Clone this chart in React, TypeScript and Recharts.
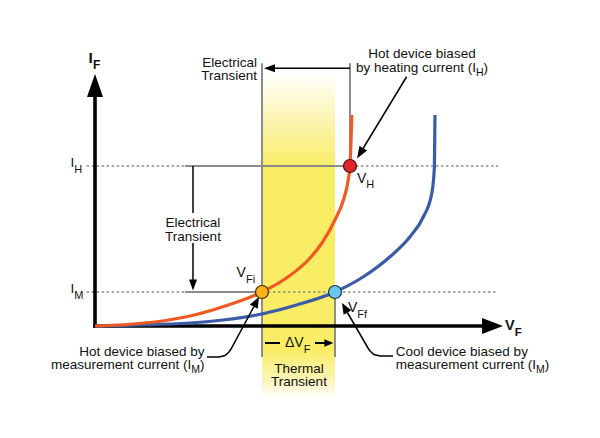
import React from 'react';
import { ComposedChart, Line, XAxis, YAxis, ReferenceLine, ReferenceDot, ReferenceArea } from 'recharts';

// ---- data (V_F in arbitrary voltage units, I_F in arbitrary current units) ----
const redV = [0, 7, 15.4, 23.75, 32, 41.75, 48.3, 53.3, 56.7, 60, 62.1, 63.3, 63.75, 64.2];
const redI = [0, 0.5, 1.7, 4, 7.7, 13.6, 19.7, 26.4, 33.1, 42.4, 50.4, 58.4, 64, 84.4];
const blueV = [0, 23.75, 32, 40.4, 50.4, 60, 67.1, 73.75, 78.75, 82.1, 84.2, 84.85, 85];
const blueI = [0, 1.2, 2.4, 4.4, 8.4, 13.6, 19.7, 27.7, 35.7, 43.7, 53.1, 63.7, 84.4];

const I_H = 64;
const I_M = 13.6;
const V_FI = 41.75;
const V_FF = 60;
const V_H = 63.75;

const hotLeaderV = [28, 31, 32.5, 33.5, 34, 39.7];
const hotLeaderI = [-12.4, -12.4, -11.8, -10.4, -9.2, 7.7];
const coolLeaderV = [74.5, 71.25, 69.75, 68.75, 68.25, 63.1];
const coolLeaderI = [-12, -12, -11.4, -10, -8.8, 5.4];

const X_DOMAIN: [number, number] = [-23.75, 126.25];
const Y_DOMAIN: [number, number] = [-44.8, 130.4];

const toData = (vs: number[], is: number[]) => vs.map((v, k) => ({ v, i: is[k] }));
const redData = toData(redV, redI);
const blueData = toData(blueV, blueI);
const hotLeader = toData(hotLeaderV, hotLeaderI);
const coolLeader = toData(coolLeaderV, coolLeaderI);

const FONT = "'Liberation Sans', Arial, Helvetica, sans-serif";
const RED_C = '#ef5a24';
const BLUE_C = '#3b5ba8';
const GREY = '#8c8c8c';

type Seg = string | { sub: string };
type TOpts = { anchor?: 'start' | 'middle' | 'end'; size?: number; weight?: string | number; lh?: number; sub?: number; shift?: number; dy?: number };

const mkText = (lines: Seg[][], o: TOpts = {}) => (p: any) => {
  const size = o.size ?? 13.5;
  const lh = o.lh ?? 13.3;
  const sub = o.sub ?? size * 0.78;
  const shift = o.shift ?? 4;
  return (
    <g>
      {lines.map((segs, li) => {
        let down = false;
        return (
          <text
            key={li}
            x={p.cx}
            y={p.cy + li * lh + (o.dy ?? 0)}
            textAnchor={o.anchor ?? 'start'}
            fontFamily={FONT}
            fontSize={size}
            fontWeight={o.weight ?? 'normal'}
            fill="#111"
          >
            {segs.map((s, si) => {
              if (typeof s === 'string') {
                const dy = down ? -shift : 0;
                down = false;
                return (
                  <tspan key={si} dy={dy} fontSize={size}>
                    {s}
                  </tspan>
                );
              }
              down = true;
              return (
                <tspan key={si} dy={shift} fontSize={sub}>
                  {s.sub}
                </tspan>
              );
            })}
          </text>
        );
      })}
    </g>
  );
};

const mkArrow = (angle: number, len = 11, hw = 4, color = '#000') => (p: any) => (
  <polygon
    points={`0,0 ${-len},${-hw} ${-len},${hw}`}
    transform={`translate(${p.cx},${p.cy}) rotate(${angle})`}
    fill={color}
  />
);

const seg = (x1: number, y1: number, x2: number, y2: number) => [
  { x: x1, y: y1 },
  { x: x2, y: y2 },
];

export default function App() {
  return (
    <div style={{ position: 'absolute', left: 0, top: 0, width: 600, height: 438, background: '#fff' }}>
      <ComposedChart width={600} height={438} margin={{ top: 0, right: 0, bottom: 0, left: 0 }}>
        <defs>
          <linearGradient id="yband" x1="0" y1="0" x2="0" y2="1">
            <stop offset="0" stopColor="#fffef6" />
            <stop offset="0.1" stopColor="#fcf6c0" />
            <stop offset="0.28" stopColor="#f9ed66" />
            <stop offset="0.85" stopColor="#f9ed66" />
            <stop offset="0.95" stopColor="#fcf5bd" />
            <stop offset="1" stopColor="#ffffff" />
          </linearGradient>
        </defs>
        <XAxis type="number" dataKey="v" domain={X_DOMAIN} allowDataOverflow hide />
        <YAxis type="number" dataKey="i" domain={Y_DOMAIN} allowDataOverflow hide />

        <ReferenceArea x1={V_FI} x2={V_FF} y1={-28.8} y2={99.2} fill="url(#yband)" fillOpacity={1} stroke="none" ifOverflow="visible" />

        {/* level lines */}
        <ReferenceLine segment={seg(-2.1, I_H, 22.5, I_H)} stroke={GREY} strokeWidth={1.5} strokeDasharray="2.5 2.5" ifOverflow="visible" />
        <ReferenceLine segment={seg(22.5, I_H, V_H, I_H)} stroke={GREY} strokeWidth={2} ifOverflow="visible" />
        <ReferenceLine segment={seg(V_H + 1.5, I_H, 100.75, I_H)} stroke={GREY} strokeWidth={1.5} strokeDasharray="2.5 2.5" ifOverflow="visible" />
        <ReferenceLine segment={seg(-2.1, I_M, 22.5, I_M)} stroke={GREY} strokeWidth={1.5} strokeDasharray="2.5 2.5" ifOverflow="visible" />
        <ReferenceLine segment={seg(22.5, I_M, V_FI, I_M)} stroke={GREY} strokeWidth={2} ifOverflow="visible" />
        <ReferenceLine segment={seg(V_FI + 1.5, I_M, 100.75, I_M)} stroke={GREY} strokeWidth={1.5} strokeDasharray="2.5 2.5" ifOverflow="visible" />

        {/* vertical grey guides */}
        <ReferenceLine segment={seg(V_FI, 105.1, V_FI, -12.4)} stroke={GREY} strokeWidth={2} ifOverflow="visible" />
        <ReferenceLine segment={seg(V_H, 105.1, V_H, I_H)} stroke={GREY} strokeWidth={2} ifOverflow="visible" />
        <ReferenceLine segment={seg(V_FF, I_M, V_FF, -12.4)} stroke={GREY} strokeWidth={2} ifOverflow="visible" />

        {/* axes */}
        <ReferenceLine segment={seg(0, -0.7, 0, 92)} stroke="#000" strokeWidth={3.6} ifOverflow="visible" />
        <ReferenceDot x={0} y={100.8} r={0} ifOverflow="visible" shape={mkArrow(-90, 23, 8)} />
        <ReferenceLine segment={seg(-0.45, 0, 97, 0)} stroke="#000" strokeWidth={3.6} ifOverflow="visible" />
        <ReferenceDot x={102} y={0} r={0} ifOverflow="visible" shape={mkArrow(0, 21, 8)} />

        {/* curves */}
        <Line data={blueData} dataKey="i" type="monotone" stroke={BLUE_C} strokeWidth={3.2} dot={false} activeDot={false} isAnimationActive={false} />
        <Line data={redData} dataKey="i" type="monotone" stroke={RED_C} strokeWidth={3.2} dot={false} activeDot={false} isAnimationActive={false} />

        {/* top electrical transient arrow */}
        <ReferenceLine segment={seg(V_H, 103.1, 45, 103.1)} stroke="#000" strokeWidth={1.5} ifOverflow="visible" />
        <ReferenceDot x={42.25} y={103.1} r={0} ifOverflow="visible" shape={mkArrow(180, 11, 4)} />

        {/* vertical electrical transient arrow */}
        <ReferenceLine segment={seg(24.5, I_H, 24.5, 45.2)} stroke="#000" strokeWidth={1.5} ifOverflow="visible" />
        <ReferenceLine segment={seg(24.5, 33.2, 24.5, 18.4)} stroke="#000" strokeWidth={1.5} ifOverflow="visible" />
        <ReferenceDot x={24.5} y={14.2} r={0} ifOverflow="visible" shape={mkArrow(90, 11, 4)} />

        {/* heating-current arrow */}
        <ReferenceLine segment={seg(77.9, 99.7, 67.05, 71.1)} stroke="#000" strokeWidth={1.5} ifOverflow="visible" />
        <ReferenceDot x={65.5} y={67} r={0} ifOverflow="visible" shape={mkArrow(121.3, 12, 4.5)} />

        {/* leaders */}
        <Line data={hotLeader} dataKey="i" type="linear" stroke="#000" strokeWidth={1.5} dot={false} activeDot={false} isAnimationActive={false} />
        <ReferenceDot x={41} y={11.6} r={0} ifOverflow="visible" shape={mkArrow(-61.7, 11, 4.5)} />
        <Line data={coolLeader} dataKey="i" type="linear" stroke="#000" strokeWidth={1.5} dot={false} activeDot={false} isAnimationActive={false} />
        <ReferenceDot x={61.75} y={9.2} r={0} ifOverflow="visible" shape={mkArrow(-120, 11, 4.5)} />

        {/* delta V_F */}
        <ReferenceLine segment={seg(42.5, -6.8, 46.25, -6.8)} stroke="#000" strokeWidth={2} ifOverflow="visible" />
        <ReferenceLine segment={seg(55, -6.8, 57.5, -6.8)} stroke="#000" strokeWidth={2} ifOverflow="visible" />
        <ReferenceDot x={59.6} y={-6.8} r={0} ifOverflow="visible" shape={mkArrow(0, 9, 3.8)} />

        {/* operating points */}
        <ReferenceDot x={V_H} y={I_H} r={6.5} fill="#e2232a" stroke="#4a1010" strokeWidth={1.2} ifOverflow="visible" />
        <ReferenceDot x={V_FI} y={I_M} r={6.5} fill="#f8b119" stroke="#4a3000" strokeWidth={1.2} ifOverflow="visible" />
        <ReferenceDot x={V_FF} y={I_M} r={6.5} fill="#6cc5ee" stroke="#1c3550" strokeWidth={1.2} ifOverflow="visible" />

        {/* texts */}
        <ReferenceDot x={-1.6} y={105.2} r={0} ifOverflow="visible" shape={mkText([['I', { sub: 'F' }]], { size: 15.5, weight: 'bold', sub: 12, shift: 6 })} />
        <ReferenceDot x={102.5} y={-1.6} r={0} ifOverflow="visible" shape={mkText([['V', { sub: 'F' }]], { size: 14.5, weight: 'bold', sub: 11.5, shift: 6 })} />
        <ReferenceDot x={-6.1} y={I_H} r={0} ifOverflow="visible" shape={mkText([['I', { sub: 'H' }]], { size: 13.5, sub: 11, shift: 6, dy: 1.2 })} />
        <ReferenceDot x={-6.1} y={I_M} r={0} ifOverflow="visible" shape={mkText([['I', { sub: 'M' }]], { size: 13.5, sub: 11, shift: 6, dy: 1.2 })} />
        <ReferenceDot x={65.5} y={57.2} r={0} ifOverflow="visible" shape={mkText([['V', { sub: 'H' }]], { size: 14, sub: 11, shift: 5 })} />
        <ReferenceDot x={35.4} y={19.7} r={0} ifOverflow="visible" shape={mkText([['V', { sub: 'Fi' }]], { size: 14, sub: 11, shift: 6 })} />
        <ReferenceDot x={63.25} y={5.8} r={0} ifOverflow="visible" shape={mkText([['V', { sub: 'Ff' }]], { size: 14, sub: 11, shift: 6 })} />
        <ReferenceDot x={47.5} y={-8.4} r={0} ifOverflow="visible" shape={mkText([['\u0394V', { sub: 'F' }]], { size: 14, sub: 11, shift: 6 })} />

        <ReferenceDot x={40.5} y={103.5} r={0} ifOverflow="visible" shape={mkText([['Electrical'], ['Transient']], { anchor: 'end', lh: 13 })} />
        <ReferenceDot x={24.5} y={39.7} r={0} ifOverflow="visible" shape={mkText([['Electrical'], ['Transient']], { anchor: 'middle', lh: 14 })} />
        <ReferenceDot x={81.75} y={107.1} r={0} ifOverflow="visible" shape={mkText([['Hot device biased'], ['by heating current (I', { sub: 'H' }, ')']], { anchor: 'middle', lh: 13.3, sub: 10.5, shift: 4 })} />
        <ReferenceDot x={51} y={-18.7} r={0} ifOverflow="visible" shape={mkText([['Thermal'], ['Transient']], { anchor: 'middle', lh: 13.3 })} />
        <ReferenceDot x={27.4} y={-11.8} r={0} ifOverflow="visible" shape={mkText([['Hot device biased by'], ['measurement current (I', { sub: 'M' }, ')']], { anchor: 'end', lh: 13.2, sub: 10.5, shift: 4 })} />
        <ReferenceDot x={75.2} y={-11.8} r={0} ifOverflow="visible" shape={mkText([['Cool device biased by'], ['measurement current (I', { sub: 'M' }, ')']], { anchor: 'start', lh: 13.2, sub: 10.5, shift: 4 })} />
      </ComposedChart>
    </div>
  );
}
